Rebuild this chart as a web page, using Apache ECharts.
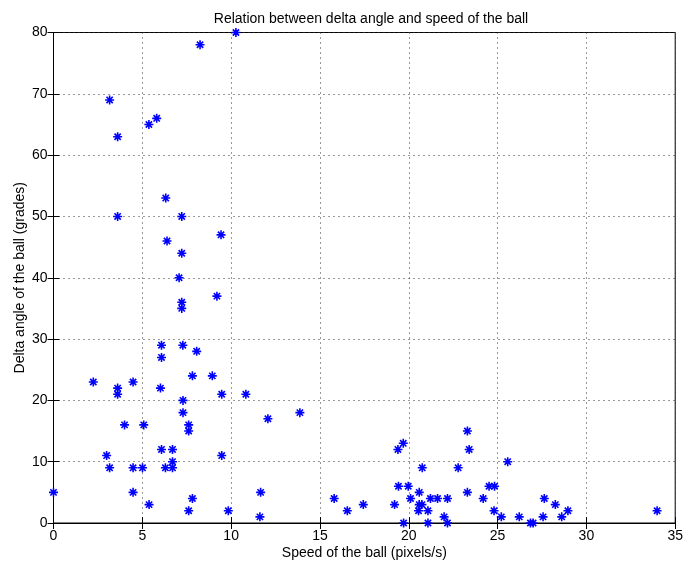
<!DOCTYPE html>
<html>
<head>
<meta charset="utf-8">
<script src="https://cdn.jsdelivr.net/npm/echarts@6/dist/echarts.min.js"></script>
<style>
  html, body { margin: 0; padding: 0; background: #fff; }
  #chart { width: 686px; height: 565px; }
</style>
</head>
<body>
<div id="chart"></div>
<script>
// Ball speed (pixels/s) and the matching change of direction (grades)
const speed = [
  0, 2.24, 2.99, 3.16, 3.16, 3.61, 3.61, 3.61, 3.61, 4.0,
  4.48, 4.48, 4.48, 5.01, 5.08, 5.37, 5.38, 5.81, 6.02, 6.08,
  6.08, 6.08, 6.30, 6.32, 6.39, 6.70, 6.70, 6.70, 7.07, 7.22,
  7.22, 7.22, 7.22, 7.28, 7.29, 7.29, 7.61, 7.61, 7.61, 7.82,
  7.82, 8.06, 8.25, 8.94, 9.20, 9.43, 9.47, 9.47, 9.84, 10.27,
  10.83, 11.62, 11.66, 12.07, 13.87, 15.80, 16.54, 17.44, 19.20, 19.39,
  19.42, 19.69, 19.71, 19.97, 20.10, 20.59, 20.59, 20.74, 20.55, 20.76,
  21.08, 21.08, 21.22, 21.62, 21.99, 22.18, 22.18, 22.78, 23.30, 23.40,
  23.30, 24.19, 24.52, 24.83, 24.80, 25.21, 25.57, 26.22, 26.85, 27.0,
  27.56, 27.63, 28.25, 28.61, 28.96, 33.98
];
const deltaAngle = [
  5, 23, 11, 69, 9, 63, 50, 22, 21, 16,
  23, 9, 5, 9, 16, 65, 3, 66, 22, 29,
  27, 12, 9, 53, 46, 12, 10, 9, 40, 50,
  44, 36, 35, 29, 20, 18, 16, 15, 2, 24,
  4, 28, 78, 24, 37, 47, 21, 11, 2, 80,
  21, 1, 5, 17, 18, 4, 2, 3, 3, 12,
  6, 13, 0, 6, 4, 5, 3, 3, 2, 9,
  2, 0, 4, 4, 1, 4, 0, 9, 15, 12,
  5, 4, 6, 6, 2, 1, 10, 1, 0, 0,
  1, 4, 3, 1, 2, 2
];
const xTicks = [0, 5, 10, 15, 20, 25, 30, 35];
const yTicks = [0, 10, 20, 30, 40, 50, 60, 70, 80];

const points = speed.map((s, i) => [s, deltaAngle[i]]);

const font = '"Liberation Sans", Arial, Helvetica, sans-serif';
const ink = '#000';
const textSize = 14;

// Asterisk marker: a plus and a cross drawn as stroked strokes
const asterisk = 'path://M0 5L10 5M5 0L5 10M1.5 1.5L8.5 8.5M8.5 1.5L1.5 8.5';

const gridLine = { show: true, lineStyle: { color: '#333', type: [1, 4], width: 1 } };

const frameAxis = {
  axisLine: { show: true, lineStyle: { color: ink, width: 1 } },
  axisTick: { show: true, inside: true, length: 6, lineStyle: { color: ink } },
  axisLabel: { show: false },
  splitLine: { show: false }
};

const chart = echarts.init(document.getElementById('chart'), null, { renderer: 'canvas' });
chart.setOption({
  animation: false,
  backgroundColor: '#fff',
  title: {
    text: 'Relation between delta angle and speed of the ball',
    left: 366,
    top: 7,
    textAlign: 'center',
    textStyle: { fontFamily: font, fontSize: textSize, fontWeight: 'normal', color: ink }
  },
  grid: { left: 53.5, right: 9.5, top: 32.5, bottom: 41.5, show: true, borderColor: ink, borderWidth: 1 },
  xAxis: [
    {
      type: 'value', min: xTicks[0], max: xTicks[xTicks.length - 1], interval: 5,
      name: 'Speed of the ball (pixels/s)', nameLocation: 'middle', nameGap: 23,
      nameMoveOverlap: false,
      nameTextStyle: { fontFamily: font, fontSize: textSize, color: ink },
      axisLine: { show: true, lineStyle: { color: ink, width: 1 } },
      axisTick: { show: true, inside: true, length: 6, lineStyle: { color: ink } },
      axisLabel: { fontFamily: font, fontSize: textSize, color: ink, margin: 6 },
      splitLine: gridLine
    },
    Object.assign({ type: 'value', position: 'top', min: xTicks[0], max: xTicks[xTicks.length - 1], interval: 5 }, frameAxis)
  ],
  yAxis: [
    {
      type: 'value', min: yTicks[0], max: yTicks[yTicks.length - 1], interval: 10,
      name: 'Delta angle of the ball (grades)', nameLocation: 'middle', nameGap: 26,
      nameMoveOverlap: false,
      nameTextStyle: { fontFamily: font, fontSize: textSize, color: ink },
      axisLine: { show: true, lineStyle: { color: ink, width: 1 } },
      axisTick: { show: true, inside: true, length: 6, lineStyle: { color: ink } },
      axisLabel: { fontFamily: font, fontSize: textSize, color: ink, margin: 6 },
      splitLine: gridLine
    },
    Object.assign({ type: 'value', position: 'right', min: yTicks[0], max: yTicks[yTicks.length - 1], interval: 10 }, frameAxis)
  ],
  series: [{
    type: 'scatter',
    xAxisIndex: 0,
    yAxisIndex: 0,
    data: points,
    symbol: asterisk,
    symbolSize: 9,
    clip: false,
    itemStyle: { color: '#0000ff', borderColor: '#0000ff', borderWidth: 1.6, opacity: 1 },
    emphasis: { disabled: true }
  }]
});
</script>
</body>
</html>
